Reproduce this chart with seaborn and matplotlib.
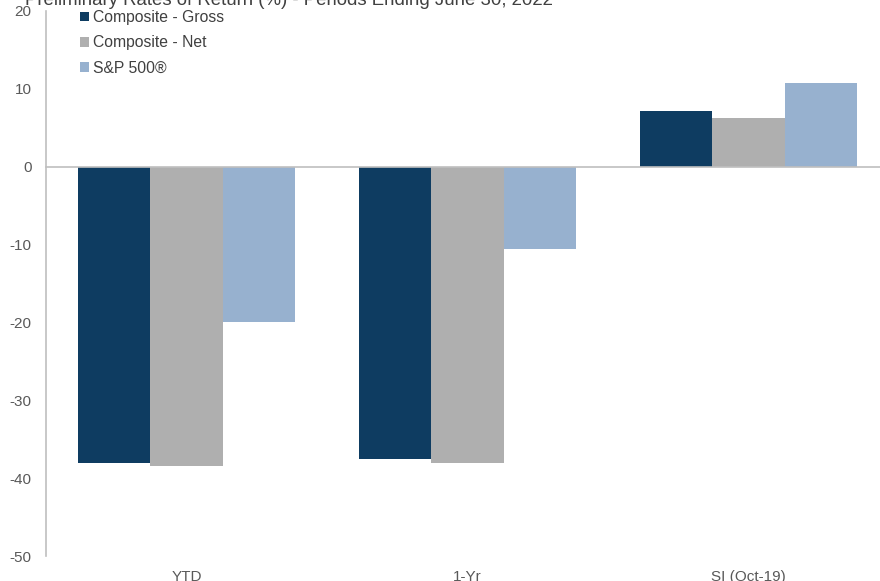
import pandas as pd
import matplotlib
matplotlib.use("Agg")
import matplotlib.pyplot as plt
import seaborn as sns

# data
periods = ["YTD", "1-Yr", "SI (Oct-19)"]
series = ["Composite - Gross", "Composite - Net", "S&P 500®"]
gross = [-38.0, -37.5, 7.2]
net = [-38.4, -38.1, 6.2]
sp500 = [-20.0, -10.6, 10.8]
colors = ["#0E3C61", "#AFAFAF", "#97B1CF"]
y_ticks = [20, 10, 0, -10, -20, -30, -40, -50]

df = pd.DataFrame({
    "period": periods * 3,
    "series": [series[0]] * 3 + [series[1]] * 3 + [series[2]] * 3,
    "value": gross + net + sp500,
})

sns.set_style("white")
plt.rcParams["font.family"] = ["Liberation Sans", "DejaVu Sans"]
plt.rcParams["axes.unicode_minus"] = False

fig = plt.figure(figsize=(8.8, 5.81), dpi=100)
W, H = 880, 581
ax = fig.add_axes([46 / W, (H - 556) / H, 843 / W, (556 - 11) / H])

sns.barplot(data=df, x="period", y="value", hue="series", order=periods,
            hue_order=series, palette=colors, width=0.77, errorbar=None,
            saturation=1, linewidth=0, ax=ax)

ax.set_xlim(-0.5, 2.5)
ax.set_ylim(-50, 20)
ax.set_yticks(y_ticks)
ax.set_xlabel("")
ax.set_ylabel("")

grid_col = "#BFBFBF"
label_col = "#595959"
for s in ["top", "right"]:
    ax.spines[s].set_visible(False)
ax.spines["left"].set_color(grid_col)
ax.spines["bottom"].set_color(grid_col)
ax.spines["bottom"].set_position(("data", 0))
ax.spines["bottom"].set_linewidth(1.2)
ax.spines["left"].set_linewidth(1.2)

ax.tick_params(axis="y", direction="inout", length=8, color=grid_col,
               labelcolor=label_col, labelsize=11, pad=6.5, width=1)
ax.set_xticks([0.5, 1.5])
ax.tick_params(axis="x", direction="inout", length=9, color=grid_col,
               labelbottom=False, width=1)

# category labels along the bottom of the plot
sec = ax.secondary_xaxis("bottom")
sec.set_xticks(range(len(periods)))
sec.set_xticklabels(periods)
sec.tick_params(length=0, labelcolor=label_col, labelsize=11, pad=10)
sec.spines["bottom"].set_visible(False)

ax.legend(loc="upper left", bbox_to_anchor=(80 / W, 1 - 10 / H),
          bbox_transform=fig.transFigure, frameon=False, fontsize=11.3,
          handlelength=0.55, handleheight=0.55, handletextpad=0.25,
          labelspacing=0.66, borderpad=0, borderaxespad=0,
          labelcolor="#404040")

fig.text(25 / W, 1 - 5 / H,
         "Preliminary Rates of Return (%) - Periods Ending June 30, 2022",
         fontsize=13.4, color="#404040", va="baseline", ha="left")

fig.savefig("out.png", dpi=100)
